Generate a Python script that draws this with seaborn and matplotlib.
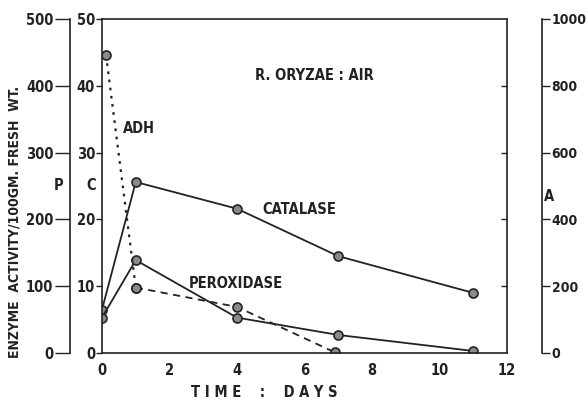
import matplotlib
matplotlib.use("Agg")
import matplotlib.pyplot as plt
import seaborn as sns
import pandas as pd

sns.set_theme(style="white")
plt.rcParams['font.family'] = ['DejaVu Sans']
plt.rcParams['font.stretch'] = 'condensed'
plt.rcParams['font.weight'] = 'bold'

# Data (main axis "C" units, 0-50)
days_cat = [0, 1, 4, 7, 11]
catalase = [6.5, 25.6, 21.6, 14.5, 9.0]
days_per = [0, 1, 4, 7, 11]
peroxidase = [5.3, 13.9, 5.3, 2.7, 0.3]
days_adh = [0.12, 1, 4, 6.9]
adh = [44.6, 9.8, 6.9, 0.1]

x_ticks = [0, 2, 4, 6, 8, 10, 12]
c_ticks = [0, 10, 20, 30, 40, 50]
p_ticks = [0, 100, 200, 300, 400, 500]
a_ticks = [0, 200, 400, 600, 800, 1000]

FS = 9.5
TFS = 10.5
fig = plt.figure(figsize=(5.86, 4.01), dpi=100)
ax = fig.add_axes([102/586, 48/401, 405/586, 334/401])

df_cat = pd.DataFrame({"day": days_cat, "val": catalase})
df_per = pd.DataFrame({"day": days_per, "val": peroxidase})
df_adh = pd.DataFrame({"day": days_adh, "val": adh})

mk = dict(marker='o', markersize=6.5, markerfacecolor='#8a8a8a', markeredgecolor='#222222', markeredgewidth=1.2)
sns.lineplot(data=df_cat, x="day", y="val", ax=ax, color='#222222', lw=1.3, **mk)
sns.lineplot(data=df_per, x="day", y="val", ax=ax, color='#222222', lw=1.3, **mk)
sns.lineplot(data=df_adh.iloc[:2], x="day", y="val", ax=ax, color='#222222', lw=1.6,
             linestyle=(0, (1.2, 2.5)), **mk)
sns.lineplot(data=df_adh.iloc[1:], x="day", y="val", ax=ax, color='#222222', lw=1.3,
             linestyle=(0, (4, 3)), **mk)

ax.set_xlim(0, 12)
ax.set_ylim(0, 50)
ax.set_xticks(x_ticks)
ax.set_xticklabels([str(t) for t in x_ticks], fontsize=FS + 1, fontweight='bold')
ax.set_yticks(c_ticks)
ax.set_yticklabels([str(t) for t in c_ticks], fontsize=FS + 1, fontweight='bold')
ax.tick_params(axis='x', direction='in', length=4, width=1, colors='#222222', pad=7, labelcolor='#222222')
ax.tick_params(axis='y', direction='out', length=4, width=1, colors='#222222', pad=1, labelcolor='#222222', left=True)
for s in ax.spines.values():
    s.set_color('#222222')
    s.set_linewidth(1.2)
ax.set_xlabel("T I M E    :    D A Y S", fontsize=TFS, fontweight='bold', color='#222222')
ax.xaxis.set_label_coords((264 - 102) / 405, -0.095)
ax.set_ylabel("")

# inward ticks on main right spine
axR = ax.secondary_yaxis('right')
axR.set_yticks(c_ticks[1:-1])
axR.set_yticklabels([])
axR.tick_params(axis='y', direction='in', length=4, width=1, colors='#222222')
axR.spines['right'].set_visible(False)

# Left P axis
axP = ax.twinx()
axP.set_ylim(0, 500)
axP.yaxis.set_ticks_position('left')
axP.yaxis.set_label_position('left')
axP.spines['left'].set_visible(True)
axP.spines['left'].set_position(('axes', -0.079))
for k in ['right', 'top', 'bottom']:
    axP.spines[k].set_visible(False)
axP.spines['left'].set_color('#222222')
axP.spines['left'].set_linewidth(1.2)
axP.set_yticks(p_ticks)
axP.set_yticklabels([str(t) for t in p_ticks], fontsize=FS + 1, fontweight='bold')
axP.tick_params(axis='y', direction='out', length=11, width=1, colors='#222222', pad=1, labelcolor='#222222')
axP.set_ylabel("ENZYME  ACTIVITY/100GM. FRESH  WT.", fontsize=10, fontweight='bold', color='#222222')
axP.yaxis.set_label_coords((22 - 102) / 405, (401 - 222 - 48) / 334)

# Right A axis
axA = ax.twinx()
axA.set_ylim(0, 1000)
axA.spines['right'].set_visible(True)
axA.spines['right'].set_position(('axes', 1.086))
for k in ['left', 'top', 'bottom']:
    axA.spines[k].set_visible(False)
axA.spines['right'].set_color('#222222')
axA.spines['right'].set_linewidth(1.2)
axA.set_yticks(a_ticks)
axA.set_yticklabels([str(t) for t in a_ticks], fontsize=FS + 0.5, fontweight='bold')
axA.tick_params(axis='y', direction='out', length=6, width=1, colors='#222222', pad=1, labelcolor='#222222')

tk = dict(fontsize=TFS, fontweight='bold', color='#222222', ha='center', va='center')
ax.text(6.3, 41.6, "R. ORYZAE : AIR", **tk)
ax.text(1.1, 33.6, "ADH", **tk)
ax.text(5.85, 21.5, "CATALASE", **tk)
ax.text(3.95, 10.4, "PEROXIDASE", **tk)
ax.text(-0.33, 25, "C", **tk)
ax.text(-1.3, 25, "P", **tk)
ax.text(13.25, 23.5, "A", **tk)

fig.savefig("out.png", dpi=100)
